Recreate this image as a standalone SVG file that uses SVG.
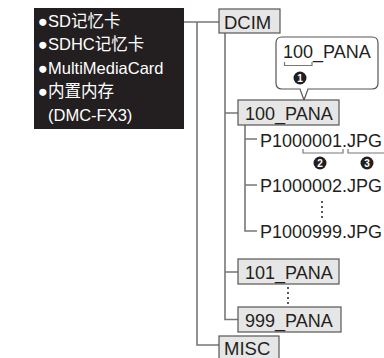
<svg xmlns="http://www.w3.org/2000/svg" width="384" height="358" viewBox="0 0 384 358">
<style>
.lbl{font-family:"Liberation Sans","Noto Sans CJK SC",sans-serif;fill:#fff;font-size:16.5px}
.t{font-family:"Liberation Sans",Arial,sans-serif;fill:#231f20;font-size:18px}
.big{font-size:18.5px}
.box{fill:#e6e6e6;stroke:#555;stroke-width:1.2}
.ln{fill:none;stroke:#777;stroke-width:1.6}
.br{fill:none;stroke:#777;stroke-width:1.2}
.num{font-family:"Liberation Sans",Arial,sans-serif;font-weight:bold;font-size:10px;fill:#fff;text-anchor:middle}
.dot{fill:#231f20}
</style>
<g id="media">
<rect x="34" y="8" width="150" height="121" fill="#231f20"/>
<text class="lbl" x="38" y="27">●SD记忆卡</text>
<text class="lbl" x="38" y="50">●SDHC记忆卡</text>
<text class="lbl" x="38" y="74">●MultiMediaCard</text>
<text class="lbl" x="38" y="97">●内置内存</text>
<text class="lbl" x="48" y="121">(DMC-FX3)</text>
</g>
<g id="connectors">
<path class="ln" d="M184 22H219M197 22V345H219"/>
<path class="ln" d="M225 33V319.5H238M225 113H238M225 272H238"/>
<path class="ln" d="M245 125V231H257M245 139H257M245 185H257"/>
</g>
<g id="dcim"><rect class="box" x="219" y="9" width="61" height="24"/><text class="t big" x="224" y="29">DCIM</text></g>
<g id="callout">
<path d="M282 37H372Q378 37 378 43V83Q378 89 372 89H308L304 100L300 89H282Q276 89 276 83V43Q276 37 282 37Z" fill="#fff" stroke="#555" stroke-width="1.2"/>
<text class="t" x="283" y="58">100_PANA</text>
<path class="br" d="M284.5 62V65.5H312V62"/>
<circle cx="300" cy="78" r="6.5" fill="#231f20"/><text class="num" x="300" y="81.5">1</text>
</g>
<g id="pana100"><rect class="box" x="238" y="100" width="101" height="25"/><text class="t" x="245" y="120">100_PANA</text></g>
<g id="file1">
<text class="t" x="260" y="147">P1000001.JPG</text>
<path class="br" d="M303 149V153H343V149"/>
<path class="br" d="M348 149V153H384"/>
<circle cx="320" cy="163" r="6.5" fill="#231f20"/><text class="num" x="320" y="166.5">2</text>
<circle cx="367" cy="163" r="6.5" fill="#231f20"/><text class="num" x="367" y="166.5">3</text>
</g>
<g id="file2"><text class="t" x="260" y="192">P1000002.JPG</text></g>
<g id="dots1"><circle class="dot" cx="322" cy="202" r="1"/><circle class="dot" cx="322" cy="207" r="1"/><circle class="dot" cx="322" cy="212" r="1"/><circle class="dot" cx="322" cy="217" r="1"/></g>
<g id="file999"><text class="t" x="260" y="238">P1000999.JPG</text></g>
<g id="pana101"><rect class="box" x="238" y="259" width="101" height="25"/><text class="t" x="245" y="279">101_PANA</text></g>
<g id="dots2"><circle class="dot" cx="288" cy="288" r="1"/><circle class="dot" cx="288" cy="293" r="1"/><circle class="dot" cx="288" cy="298" r="1"/><circle class="dot" cx="288" cy="303" r="1"/></g>
<g id="pana999"><rect class="box" x="238" y="307" width="103" height="25"/><text class="t" x="245" y="327">999_PANA</text></g>
<g id="misc"><rect class="box" x="219" y="336" width="60" height="24"/><text class="t big" x="224" y="355">MISC</text></g>
</svg>
